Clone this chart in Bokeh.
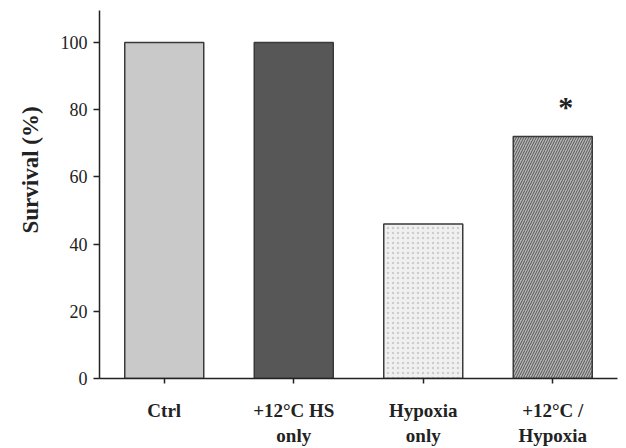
from bokeh.plotting import figure
from bokeh.models import ColumnDataSource, FactorRange, Range1d, FixedTicker, Title
from bokeh.embed import file_html
from bokeh.resources import INLINE
from bokeh.core.properties import value

categories = ["Ctrl", "+12°C HS\nonly", "Hypoxia\nonly", "+12°C /\nHypoxia"]
survival = [100, 100, 46, 72]
fills = ["#c9c9c9", "#575757", "#f0f0f0", "#b5b5b5"]
hatches = [" ", " ", "dot", "/"]
hatch_colors = ["#c9c9c9", "#575757", "#cdcdcd", "#555555"]
significance = ["", "", "", "*"]
y_ticks = [0, 20, 40, 60, 80, 100]
y_title = "Survival (%)"

src = ColumnDataSource(dict(x=categories, top=survival, fill=fills,
                            hatch=hatches, hcol=hatch_colors))

p = figure(width=626, height=448, output_backend="svg", toolbar_location=None,
           x_range=FactorRange(*categories, range_padding=0),
           y_range=Range1d(0, 109.5),
           min_border_left=98, min_border_right=9, min_border_top=10,
           min_border_bottom=68)
p.outline_line_color = None
p.grid.grid_line_color = None
p.background_fill_color = "white"
p.border_fill_color = "white"

p.vbar(x="x", top="top", width=0.61, source=src, fill_color="fill",
       line_color="#3a3a3a", line_width=1.5, hatch_pattern="hatch",
       hatch_color="hcol", hatch_scale=5, hatch_weight=1)

star_src = ColumnDataSource(dict(x=categories,
                                 y=[v + 4 for v in survival],
                                 t=significance))
p.text(x="x", y="y", text="t", source=star_src, text_align="center",
       text_baseline="bottom", x_offset=13,
       text_font=value("Liberation Serif"), text_font_size="30px",
       text_font_style="bold", text_color="#222222")

for ax in (p.xaxis[0], p.yaxis[0]):
    ax.axis_line_color = "#222222"
    ax.axis_line_width = 1.5
    ax.major_tick_line_color = "#222222"
    ax.major_tick_line_width = 1.5
    ax.minor_tick_line_color = None
    ax.major_tick_in = 0
    ax.major_tick_out = 6

p.yaxis.ticker = FixedTicker(ticks=y_ticks)
p.yaxis.major_label_text_font = "Liberation Serif"
p.yaxis.major_label_text_font_size = "18px"
p.yaxis.major_label_text_color = "#222222"
p.yaxis.major_label_standoff = 6

p.add_layout(Title(text=y_title, align="left", offset=145, standoff=30,
                   text_font="Liberation Serif", text_font_style="bold",
                   text_font_size="23px", text_color="#222222"), "left")

p.xaxis.major_label_text_font = "Liberation Serif"
p.xaxis.major_label_text_font_style = "bold"
p.xaxis.major_label_text_font_size = "19px"
p.xaxis.major_label_text_line_height = 1.2
p.xaxis.major_label_text_color = "#222222"
p.xaxis.major_label_standoff = 16
p.xaxis.major_tick_out = 5

open("out.html", "w").write(file_html(p, INLINE))
